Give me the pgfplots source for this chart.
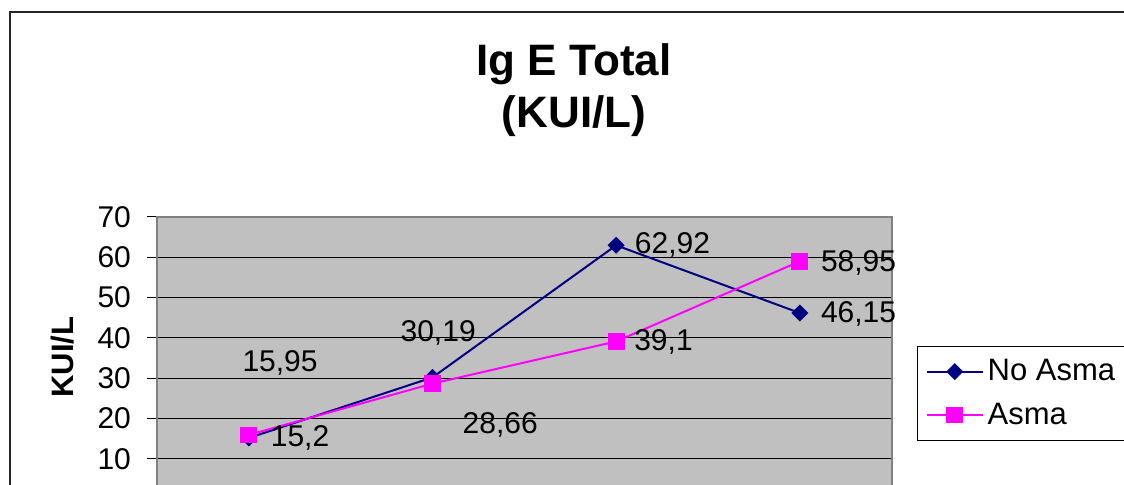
\documentclass[border=0pt]{standalone}
\usepackage{fontspec}
\setmainfont{Liberation Sans}
\usepackage{pgfplots}
\pgfplotsset{compat=1.18}
\definecolor{plotbg}{RGB}{192,192,192}
\definecolor{frameg}{RGB}{128,128,128}
\definecolor{noasma}{RGB}{0,0,128}
\definecolor{asma}{RGB}{255,0,255}
\begin{document}
\begin{tikzpicture}
% picture is 1124x484 px, 1px = 0.5pt; the reference is cropped at right and bottom
\path[use as bounding box] (0,0) rectangle (562pt,242pt);
\clip (0,0) rectangle (562pt,242pt);
\draw[line width=1pt, black!85] (5pt,-20pt) -- (5pt,236pt) -- (600pt,236pt);
\node[anchor=base, font=\bfseries\fontsize{22}{26}\selectfont] at (287pt,204.5pt) {Ig E Total};
\node[anchor=base, font=\bfseries\fontsize{22}{26}\selectfont] at (287pt,178.5pt) {(KUI/L)};
\begin{axis}[
    at={(78.5pt,-7.65pt)}, anchor=south west,
    scale only axis, width=367.3pt, height=141.3pt,
    xmin=-0.5, xmax=3.5, ymin=0, ymax=70,
    xtick=\empty,
    ytick={10,20,...,70},
    ytick pos=left, tick align=outside,
    major tick length=5pt,
    tick style={black, line width=0.5pt},
    ymajorgrids, major grid style={black, line width=0.5pt},
    axis line style={frameg, line width=1pt},
    axis background/.style={fill=plotbg},
    tick label style={font=\fontsize{15}{18}\selectfont},
    yticklabel style={xshift=-4.5pt},
    /pgf/number format/assume math mode=true,
    ylabel={\bfseries KUI/L},
    ylabel style={font=\fontsize{15.5}{18}\selectfont, at={(axis description cs:-0.129,0.503)}, anchor=center},
    clip=false,
    legend style={at={(axis description cs:1.035,0.5425)}, anchor=north west,
        draw=black, fill=white, font=\fontsize{15.5}{18}\selectfont,
        inner xsep=4pt, inner ysep=4.5pt, row sep=5.5pt},
    legend cell align=left,
    legend image code/.code={\draw[mark repeat=2,mark phase=2] plot coordinates {(0pt,0pt) (14pt,0pt) (28pt,0pt)};},
]
\addplot[noasma, line width=1pt, mark=square*, mark size=2.5pt, mark options={rotate=45, fill=noasma}]
    coordinates {(0,15.2) (1,30.19) (2,62.92) (3,46.15)};
\addlegendentry{No Asma\hspace{12pt}}
\addplot[asma, line width=1pt, mark=square*, mark size=3.7pt, mark options={fill=asma}]
    coordinates {(0,15.95) (1,28.66) (2,39.1) (3,58.95)};
\addlegendentry{Asma}
% value labels
\begin{scope}[every node/.style={font=\fontsize{15}{18}\selectfont, inner sep=0pt}]
\node at (axis cs:0.170,33.7) {15,95};
\node at (axis cs:0.279,15.3) {15,2};
\node at (axis cs:1.031,41.1) {30,19};
\node at (axis cs:1.369,18.3) {28,66};
\node at (axis cs:2.307,62.9) {62,92};
\node at (axis cs:2.258,38.9) {39,1};
\node at (axis cs:3.32,58.6) {58,95};
\node at (axis cs:3.32,46.0) {46,15};
\end{scope}
\end{axis}
\end{tikzpicture}
\end{document}
